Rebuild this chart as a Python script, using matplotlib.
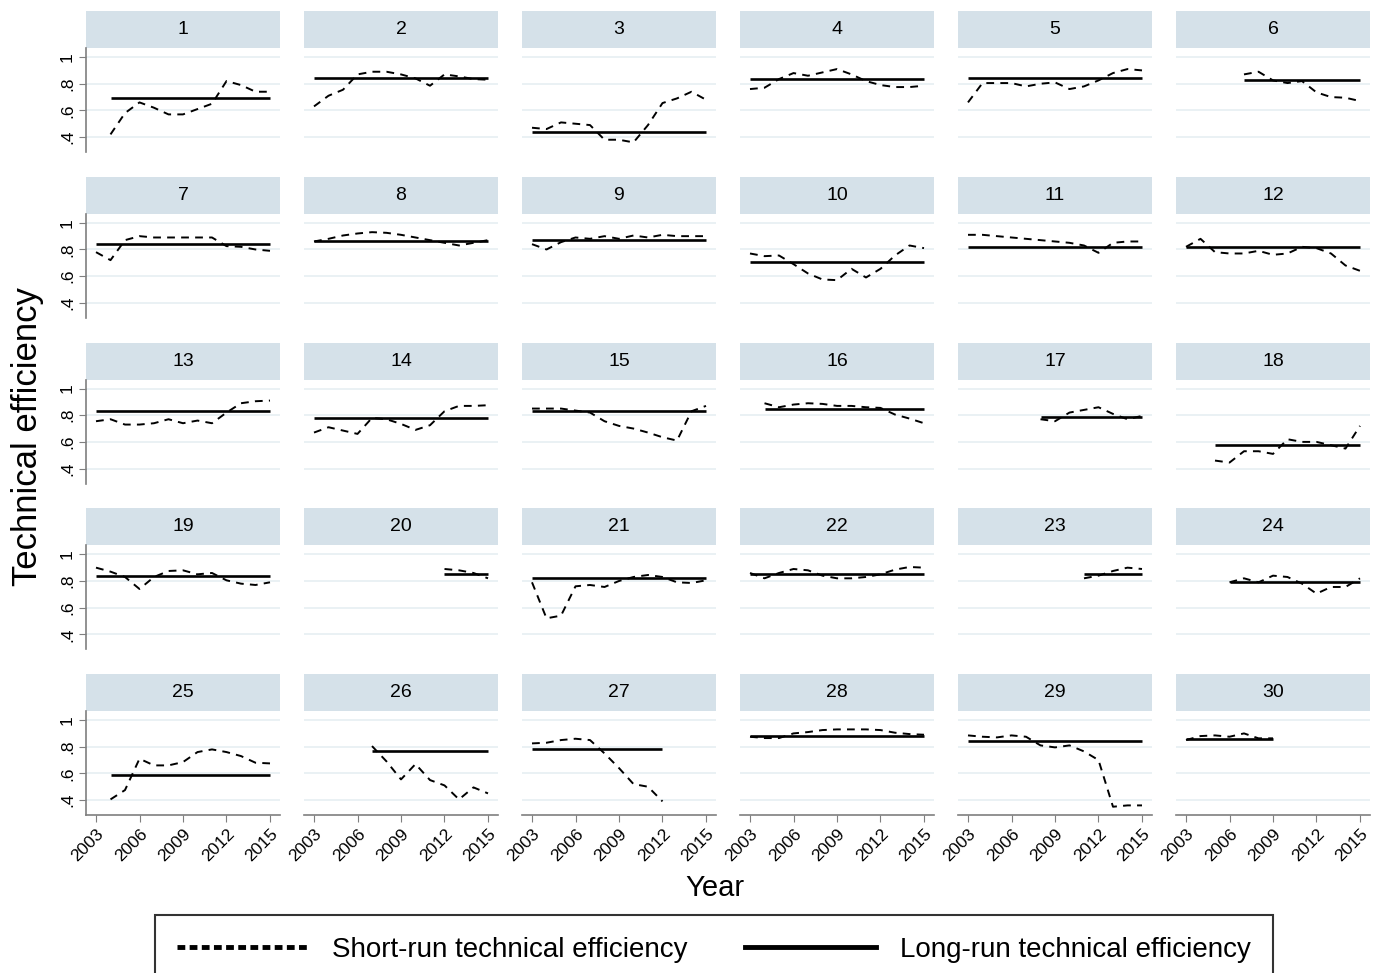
import numpy as np
import matplotlib
matplotlib.use("Agg")
import matplotlib.pyplot as plt
from matplotlib.lines import Line2D

plt.rcParams['font.family'] = ['Liberation Sans', 'DejaVu Sans']

years = list(range(2003, 2016))
N = np.nan

# Short-run technical efficiency per panel (2003..2015)
sr = {
    1:  [N, .42, .58, .66, .62, .57, .57, .61, .65, .82, .79, .74, .74],
    2:  [.63, .71, .755, .87, .89, .89, .87, .84, .785, .87, .855, .835, .83],
    3:  [.47, .46, .51, .50, .49, .38, .38, .36, .49, .655, .69, .74, .68],
    4:  [.76, .77, .835, .88, .86, .885, .91, .87, .82, .79, .775, .775, .785],
    5:  [.66, .805, .805, .805, .78, .80, .81, .76, .78, .825, .88, .91, .90],
    6:  [N, N, N, N, .87, .89, .825, .805, .82, .735, .70, .695, .67],
    7:  [.78, .72, .87, .90, .89, .89, .89, .89, .89, .825, .82, .80, .79],
    8:  [.86, .88, .905, .92, .93, .925, .91, .89, .87, .85, .83, .85, .87],
    9:  [.84, .80, .855, .89, .88, .90, .88, .905, .89, .91, .90, .90, .90],
    10: [.77, .75, .755, .69, .62, .575, .57, .655, .59, .655, .755, .83, .81],
    11: [.91, .91, .90, .89, .88, .87, .86, .85, .83, .775, .85, .86, .86],
    12: [.82, .88, .78, .77, .77, .79, .76, .77, .82, .81, .77, .68, .64],
    13: [.755, .77, .73, .73, .74, .77, .74, .76, .74, .82, .89, .905, .91],
    14: [.67, .71, .685, .66, .78, .77, .735, .69, .725, .83, .87, .87, .875],
    15: [.85, .85, .85, .835, .82, .755, .72, .70, .67, .635, .61, .83, .87],
    16: [N, .89, .86, .88, .89, .885, .87, .87, .86, .855, .805, .775, .74],
    17: [N, N, N, N, N, .77, .755, .82, .84, .86, .81, .77, .795],
    18: [N, N, .46, .445, .53, .53, .51, .62, .60, .60, .575, .55, .72],
    19: [.90, .87, .83, .74, .83, .875, .88, .85, .86, .805, .78, .77, .79],
    20: [N, N, N, N, N, N, N, N, N, .89, .88, .86, .82],
    21: [.79, .52, .54, .76, .77, .755, .80, .83, .845, .83, .79, .785, .805],
    22: [.86, .82, .86, .89, .88, .84, .82, .82, .83, .85, .885, .905, .90],
    23: [N, N, N, N, N, N, N, N, .82, .84, .875, .90, .89],
    24: [N, N, N, .79, .82, .79, .84, .83, .78, .705, .755, .755, .82],
    25: [N, .405, .475, .71, .66, .66, .685, .76, .78, .76, .73, .68, .675],
    26: [N, N, N, N, .805, .69, .555, .67, .55, .51, .405, .495, .45],
    27: [.825, .83, .85, .86, .85, .75, .64, .52, .50, .39, N, N, N],
    28: [.875, .865, .865, .90, .91, .925, .93, .93, .93, .925, .905, .895, .89],
    29: [.885, .875, .87, .885, .875, .81, .795, .81, .765, .70, .35, .36, .36],
    30: [.85, .88, .885, .875, .90, .863, .863, N, N, N, N, N, N],
}

# Long-run technical efficiency per panel
lr = {
    1: .69, 2: .84, 3: .44, 4: .835, 5: .84, 6: .83,
    7: .84, 8: .865, 9: .87, 10: .705, 11: .82, 12: .815,
    13: .835, 14: .78, 15: .83, 16: .85, 17: .785, 18: .575,
    19: .84, 20: .85, 21: .82, 22: .855, 23: .855, 24: .79,
    25: .585, 26: .77, 27: .78, 28: .88, 29: .84, 30: .855,
}

yticks = [.4, .6, .8, 1]
ytick_labels = ['.4', '.6', '.8', '1']
xticks = [2003, 2006, 2009, 2012, 2015]

W, H = 1380, 973
fig = plt.figure(figsize=(W / 100, H / 100), dpi=100)

grid_c = '#e8f0f3'
strip_c = '#d5e1e9'
axis_c = '#7f7f7f'

col_x0 = 86
col_step = 218
panel_w = 194
row_y0 = 11
row_step = 165.75
strip_h = 37
plot_h = 104

for idx in range(30):
    pid = idx + 1
    r, c = divmod(idx, 6)
    left = col_x0 + c * col_step
    top = row_y0 + r * row_step
    # strip
    sax = fig.add_axes([left / W, 1 - (top + strip_h) / H, panel_w / W, strip_h / H])
    sax.set_facecolor(strip_c)
    sax.set_xticks([]); sax.set_yticks([])
    for s in sax.spines.values():
        s.set_visible(False)
    sax.text(0.5, 0.5, str(pid), ha='center', va='center', fontsize=14, transform=sax.transAxes)

    ax = fig.add_axes([left / W, 1 - (top + strip_h + plot_h) / H, panel_w / W, plot_h / H])
    ax.set_xlim(2002.31, 2015.69)
    ax.set_ylim(0.288, 1.068)
    for s in ax.spines.values():
        s.set_visible(False)
    ax.set_yticks(yticks)
    ax.set_xticks(xticks)
    ax.grid(axis='y', color=grid_c, lw=1.3)
    ax.set_axisbelow(True)

    y = np.array(sr[pid], dtype=float)
    valid = ~np.isnan(y)
    yrs = np.array(years)
    ax.plot(yrs, y, color='black', lw=1.4, dashes=(4, 3.2))
    x0, x1 = yrs[valid].min(), yrs[valid].max()
    ax.plot([x0, x1], [lr[pid], lr[pid]], color='black', lw=1.9, solid_capstyle='butt')

    if c == 0:
        ax.spines['left'].set_visible(True)
        ax.spines['left'].set_color(axis_c)
        ax.spines['left'].set_linewidth(1.2)
        ax.set_yticklabels(ytick_labels, rotation=90, va='center', fontsize=12.5)
        ax.tick_params(axis='y', length=5, color=axis_c, pad=3)
    else:
        ax.tick_params(axis='y', left=False, labelleft=False)
    if r == 4:
        ax.spines['bottom'].set_visible(True)
        ax.spines['bottom'].set_color(axis_c)
        ax.spines['bottom'].set_linewidth(1.2)
        ax.set_xticklabels([str(t) for t in xticks], rotation=45, ha='right',
                           rotation_mode='anchor', fontsize=12.5)
        ax.tick_params(axis='x', length=5, color=axis_c, pad=3)
    else:
        ax.tick_params(axis='x', bottom=False, labelbottom=False)

fig.text(715 / W, 1 - 888 / H, 'Year', ha='center', va='center', fontsize=21)
fig.text(28 / W, 1 - 437 / H, 'Technical efficiency', ha='center', va='center',
         rotation=90, fontsize=25)

handles = [
    Line2D([], [], color='black', lw=3.5, dashes=(1.6, 0.9)),
    Line2D([], [], color='black', lw=3.5),
]
leg = fig.legend(handles, ['Short-run technical efficiency', 'Long-run technical efficiency'],
                 loc='center', bbox_to_anchor=(714 / W, 1 - 950 / H), ncol=2,
                 fontsize=20, frameon=True, fancybox=False, edgecolor='black',
                 handlelength=4.7, handletextpad=0.85, columnspacing=2.1,
                 borderpad=0.8)
leg.get_frame().set_linewidth(1.5)

fig.savefig('out.png', dpi=100, facecolor='white')
